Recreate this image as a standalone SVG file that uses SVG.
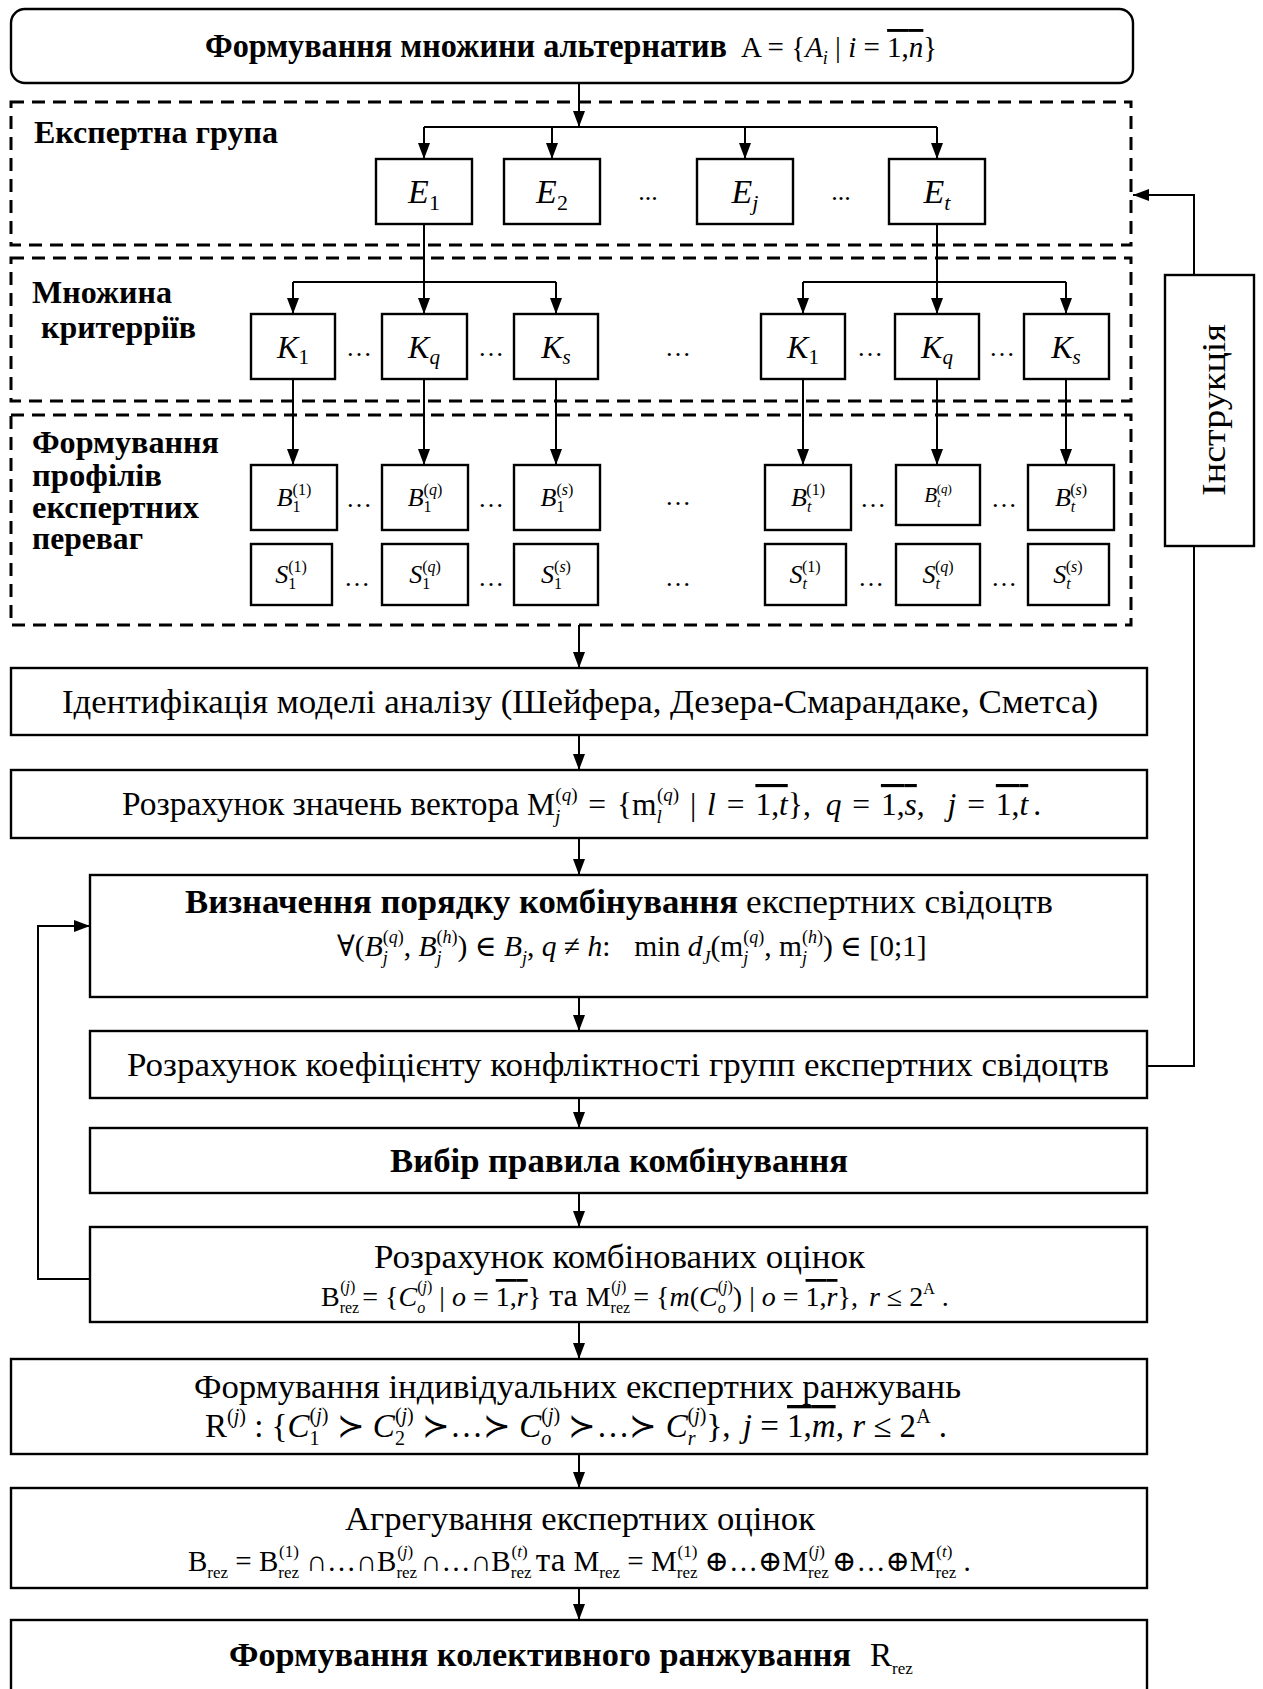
<svg xmlns="http://www.w3.org/2000/svg" width="1263" height="1689" viewBox="0 0 1263 1689">
<style>
.t{font-family:"Liberation Serif","Times New Roman","DejaVu Serif",serif;fill:#000}
.r{font-size:34px}
.b{font-size:33px;font-weight:bold}
.lb{font-size:31px;font-weight:bold}
.f{font-size:26px}
.s{font-size:16px}
.it{font-style:italic}
.ol{text-decoration:overline}
.box{fill:#fff;stroke:#000;stroke-width:2.4}
.dash{fill:none;stroke:#000;stroke-width:3;stroke-dasharray:13 8}
.conn{fill:none;stroke:#000;stroke-width:2}
.arr{marker-end:url(#ah)}
</style>
<defs>
<marker id="ah" viewBox="0 0 16 12" refX="16" refY="6" markerWidth="16" markerHeight="12" orient="auto" markerUnits="userSpaceOnUse">
<path d="M0,0 L16,6 L0,12 z" fill="#000"/>
</marker>
</defs>
<rect width="1263" height="1689" fill="#fff"/>

<!-- dashed grouping frames -->
<g id="frames">
<rect id="frame-experts" class="dash" x="11" y="102" width="1120" height="143"/>
<rect id="frame-criteria" class="dash" x="11" y="258" width="1120" height="143"/>
<rect id="frame-profiles" class="dash" x="11" y="415" width="1120" height="210"/>
<text class="t lb" x="34" y="143" textLength="244" lengthAdjust="spacingAndGlyphs">Експертна група</text>
<text class="t lb" x="32" y="303" textLength="140" lengthAdjust="spacingAndGlyphs">Множина</text>
<text class="t lb" x="41" y="338" textLength="155" lengthAdjust="spacingAndGlyphs">критерріїв</text>
<text class="t lb" x="32" y="453" textLength="187" lengthAdjust="spacingAndGlyphs">Формування</text>
<text class="t lb" x="32" y="486" textLength="130" lengthAdjust="spacingAndGlyphs">профілів</text>
<text class="t lb" x="32" y="518" textLength="167" lengthAdjust="spacingAndGlyphs">експертних</text>
<text class="t lb" x="32" y="549" textLength="111" lengthAdjust="spacingAndGlyphs">переваг</text>
</g>

<!-- connectors -->
<g id="connectors">
<path class="conn arr" d="M579,83 V127"/>
<path class="conn" d="M424,127 H937"/>
<path class="conn arr" d="M424,127 V159"/>
<path class="conn arr" d="M552,127 V159"/>
<path class="conn arr" d="M745,127 V159"/>
<path class="conn arr" d="M937,127 V159"/>
<path class="conn arr" d="M424,224 V314"/>
<path class="conn" d="M293,282 H556"/>
<path class="conn arr" d="M293,282 V314"/>
<path class="conn arr" d="M556,282 V314"/>
<path class="conn arr" d="M937,224 V314"/>
<path class="conn" d="M803,282 H1066"/>
<path class="conn arr" d="M803,282 V314"/>
<path class="conn arr" d="M1066,282 V314"/>
<path class="conn arr" d="M293,379 V465"/>
<path class="conn arr" d="M424,379 V465"/>
<path class="conn arr" d="M556,379 V465"/>
<path class="conn arr" d="M803,379 V465"/>
<path class="conn arr" d="M937,379 V465"/>
<path class="conn arr" d="M1066,379 V465"/>
<path class="conn arr" d="M579,625 V668"/>
<path class="conn arr" d="M579,735 V770"/>
<path class="conn arr" d="M579,838 V875"/>
<path class="conn arr" d="M579,997 V1031"/>
<path class="conn arr" d="M579,1098 V1128"/>
<path class="conn arr" d="M579,1193 V1227"/>
<path class="conn arr" d="M579,1322 V1359"/>
<path class="conn arr" d="M579,1454 V1488"/>
<path class="conn arr" d="M579,1588 V1620"/>
<path class="conn arr" d="M90,1279 H38 V926 H90"/>
<path class="conn" d="M1147,1066 H1194 V546"/>
<path class="conn arr" d="M1194,275 V195 H1133"/>
</g>

<!-- source of alternatives -->
<g id="n-alternatives">
<rect class="box" x="11" y="9" width="1122" height="74" rx="14"/>
<text class="t b" x="205" y="57" textLength="522" lengthAdjust="spacingAndGlyphs">Формування множини альтернатив</text>
<text class="t" font-size="29" x="741" y="57">A = {<tspan class="it">A</tspan><tspan font-size="18" class="it" dy="7">i</tspan><tspan dy="-7"> | </tspan><tspan class="it">i</tspan> = <tspan class="ol">1,<tspan class="it">n</tspan></tspan>}</text>
</g>

<!-- experts -->
<g id="n-e1"><rect class="box" x="376" y="159" width="96" height="65"/><text class="t" font-size="34" x="424" y="203" text-anchor="middle"><tspan class="it">E</tspan><tspan font-size="22" dy="7">1</tspan></text></g>
<g id="n-e2"><rect class="box" x="504" y="159" width="96" height="65"/><text class="t" font-size="34" x="552" y="203" text-anchor="middle"><tspan class="it">E</tspan><tspan font-size="22" dy="7">2</tspan></text></g>
<g id="n-ej"><rect class="box" x="697" y="159" width="96" height="65"/><text class="t" font-size="34" x="745" y="203" text-anchor="middle"><tspan class="it">E</tspan><tspan font-size="22" class="it" dy="7">j</tspan></text></g>
<g id="n-et"><rect class="box" x="889" y="159" width="96" height="65"/><text class="t" font-size="34" x="937" y="203" text-anchor="middle"><tspan class="it">E</tspan><tspan font-size="22" class="it" dy="7">t</tspan></text></g>
<g id="e-dots"><text class="t f" x="648" y="200" text-anchor="middle">...</text><text class="t f" x="841" y="200" text-anchor="middle">...</text></g>

<!-- criteria, expert 1 -->
<g id="n-k1-1"><rect class="box" x="251" y="314" width="84" height="65"/><text class="t" font-size="32" x="293" y="358" text-anchor="middle"><tspan class="it">K</tspan><tspan font-size="21" dy="6">1</tspan></text></g>
<g id="n-kq-1"><rect class="box" x="382" y="314" width="85" height="65"/><text class="t" font-size="32" x="424" y="358" text-anchor="middle"><tspan class="it">K</tspan><tspan font-size="21" class="it" dy="6">q</tspan></text></g>
<g id="n-ks-1"><rect class="box" x="514" y="314" width="84" height="65"/><text class="t" font-size="32" x="556" y="358" text-anchor="middle"><tspan class="it">K</tspan><tspan font-size="21" class="it" dy="6">s</tspan></text></g>
<!-- criteria, expert t -->
<g id="n-k1-t"><rect class="box" x="761" y="314" width="84" height="65"/><text class="t" font-size="32" x="803" y="358" text-anchor="middle"><tspan class="it">K</tspan><tspan font-size="21" dy="6">1</tspan></text></g>
<g id="n-kq-t"><rect class="box" x="895" y="314" width="84" height="65"/><text class="t" font-size="32" x="937" y="358" text-anchor="middle"><tspan class="it">K</tspan><tspan font-size="21" class="it" dy="6">q</tspan></text></g>
<g id="n-ks-t"><rect class="box" x="1024" y="314" width="85" height="65"/><text class="t" font-size="32" x="1066" y="358" text-anchor="middle"><tspan class="it">K</tspan><tspan font-size="21" class="it" dy="6">s</tspan></text></g>
<g id="k-dots"><text class="t f" x="359" y="356" text-anchor="middle">…</text><text class="t f" x="491" y="356" text-anchor="middle">…</text><text class="t f" x="678" y="356" text-anchor="middle">…</text><text class="t f" x="870" y="356" text-anchor="middle">…</text><text class="t f" x="1002" y="356" text-anchor="middle">…</text></g>

<!-- belief profiles -->
<g id="n-b1-1"><rect class="box" x="251" y="465" width="86" height="65"/><text class="t f" x="294" y="506" text-anchor="middle"><tspan class="it">B</tspan><tspan class="s" dy="6">1</tspan><tspan class="s" dx="-8" dy="-17">(1)</tspan></text></g>
<g id="n-bq-1"><rect class="box" x="382" y="465" width="86" height="65"/><text class="t f" x="425" y="506" text-anchor="middle"><tspan class="it">B</tspan><tspan class="s" dy="6">1</tspan><tspan class="s" dx="-8" dy="-17">(<tspan class="it">q</tspan>)</tspan></text></g>
<g id="n-bs-1"><rect class="box" x="514" y="465" width="86" height="65"/><text class="t f" x="557" y="506" text-anchor="middle"><tspan class="it">B</tspan><tspan class="s" dy="6">1</tspan><tspan class="s" dx="-8" dy="-17">(<tspan class="it">s</tspan>)</tspan></text></g>
<g id="n-b1-t"><rect class="box" x="765" y="465" width="86" height="65"/><text class="t f" x="808" y="506" text-anchor="middle"><tspan class="it">B</tspan><tspan class="s it" dy="6">t</tspan><tspan class="s" dx="-5" dy="-17">(1)</tspan></text></g>
<g id="n-bq-t"><rect class="box" x="896" y="465" width="84" height="60"/><text class="t" font-size="21" x="938" y="502" text-anchor="middle"><tspan class="it">B</tspan><tspan font-size="13" class="it" dy="5">t</tspan><tspan font-size="13" dx="-4" dy="-14">(<tspan class="it">q</tspan>)</tspan></text></g>
<g id="n-bs-t"><rect class="box" x="1028" y="465" width="86" height="65"/><text class="t f" x="1071" y="506" text-anchor="middle"><tspan class="it">B</tspan><tspan class="s it" dy="6">t</tspan><tspan class="s" dx="-5" dy="-17">(<tspan class="it">s</tspan>)</tspan></text></g>
<g id="b-dots"><text class="t f" x="359" y="507" text-anchor="middle">…</text><text class="t f" x="491" y="507" text-anchor="middle">…</text><text class="t f" x="678" y="505" text-anchor="middle">…</text><text class="t f" x="873" y="507" text-anchor="middle">…</text><text class="t f" x="1004" y="507" text-anchor="middle">…</text></g>

<!-- support profiles -->
<g id="n-s1-1"><rect class="box" x="251" y="544" width="81" height="61"/><text class="t f" x="291" y="583" text-anchor="middle"><tspan class="it">S</tspan><tspan class="s" dy="6">1</tspan><tspan class="s" dx="-8" dy="-17">(1)</tspan></text></g>
<g id="n-sq-1"><rect class="box" x="382" y="544" width="86" height="61"/><text class="t f" x="425" y="583" text-anchor="middle"><tspan class="it">S</tspan><tspan class="s" dy="6">1</tspan><tspan class="s" dx="-8" dy="-17">(<tspan class="it">q</tspan>)</tspan></text></g>
<g id="n-ss-1"><rect class="box" x="514" y="544" width="84" height="61"/><text class="t f" x="556" y="583" text-anchor="middle"><tspan class="it">S</tspan><tspan class="s" dy="6">1</tspan><tspan class="s" dx="-8" dy="-17">(<tspan class="it">s</tspan>)</tspan></text></g>
<g id="n-s1-t"><rect class="box" x="765" y="544" width="81" height="61"/><text class="t f" x="805" y="583" text-anchor="middle"><tspan class="it">S</tspan><tspan class="s it" dy="6">t</tspan><tspan class="s" dx="-5" dy="-17">(1)</tspan></text></g>
<g id="n-sq-t"><rect class="box" x="896" y="544" width="84" height="61"/><text class="t f" x="938" y="583" text-anchor="middle"><tspan class="it">S</tspan><tspan class="s it" dy="6">t</tspan><tspan class="s" dx="-5" dy="-17">(<tspan class="it">q</tspan>)</tspan></text></g>
<g id="n-ss-t"><rect class="box" x="1028" y="544" width="81" height="61"/><text class="t f" x="1068" y="583" text-anchor="middle"><tspan class="it">S</tspan><tspan class="s it" dy="6">t</tspan><tspan class="s" dx="-5" dy="-17">(<tspan class="it">s</tspan>)</tspan></text></g>
<g id="s-dots"><text class="t f" x="357" y="586" text-anchor="middle">…</text><text class="t f" x="491" y="586" text-anchor="middle">…</text><text class="t f" x="678" y="586" text-anchor="middle">…</text><text class="t f" x="871" y="586" text-anchor="middle">…</text><text class="t f" x="1004" y="586" text-anchor="middle">…</text></g>

<!-- instruction feedback -->
<g id="n-instruction"><rect class="box" x="1165" y="275" width="89" height="271"/><text class="t" font-size="34" transform="translate(1225,410) rotate(-90)" text-anchor="middle" textLength="172" lengthAdjust="spacingAndGlyphs">Інструкція</text></g>

<!-- main chain -->
<g id="n-model"><rect class="box" x="11" y="668" width="1136" height="67"/><text class="t r" x="62" y="713" textLength="1036" lengthAdjust="spacingAndGlyphs">Ідентифікація моделі аналізу (Шейфера, Дезера-Смарандаке, Сметса)</text></g>

<g id="n-vector"><rect class="box" x="11" y="770" width="1136" height="68"/><text class="t r" x="122" y="815" textLength="397" lengthAdjust="spacingAndGlyphs">Розрахунок значень вектора</text><text class="t" font-size="31.5" word-spacing="3" x="527" y="815">M<tspan font-size="19" class="it" dy="8">j</tspan><tspan font-size="19" dx="-5" dy="-22">(<tspan class="it">q</tspan>)</tspan><tspan dy="14"> = {m</tspan><tspan font-size="19" class="it" dy="8">l</tspan><tspan font-size="19" dx="-5" dy="-22">(<tspan class="it">q</tspan>)</tspan><tspan dy="14"> | </tspan><tspan class="it">l</tspan> = <tspan class="ol">1,<tspan class="it">t</tspan></tspan>}, <tspan dx="4" class="it">q</tspan> = <tspan class="ol">1,<tspan class="it">s</tspan></tspan>, <tspan dx="12" class="it">j</tspan> = <tspan class="ol">1,<tspan class="it">t</tspan></tspan><tspan dx="5">.</tspan></text></g>

<g id="n-order"><rect class="box" x="90" y="875" width="1057" height="122"/><text class="t b" x="185" y="913" textLength="553" lengthAdjust="spacingAndGlyphs">Визначення порядку комбінування</text><text class="t r" x="746" y="913" textLength="307" lengthAdjust="spacingAndGlyphs">експертних свідоцтв</text><text class="t" font-size="29.5" x="337" y="956">∀(<tspan class="it">B</tspan><tspan font-size="18" class="it" dy="8">j</tspan><tspan font-size="18" dx="-5" dy="-21">(<tspan class="it">q</tspan>)</tspan><tspan dy="13">, </tspan><tspan class="it">B</tspan><tspan font-size="18" class="it" dy="8">j</tspan><tspan font-size="18" dx="-5" dy="-21">(<tspan class="it">h</tspan>)</tspan><tspan dy="13">) ∈ </tspan><tspan class="it">B</tspan><tspan font-size="18" class="it" dy="8">j</tspan><tspan dy="-8">, </tspan><tspan class="it">q</tspan> ≠ <tspan class="it">h</tspan>:<tspan dx="24">min </tspan><tspan class="it">d</tspan><tspan font-size="18" class="it" dy="8">J</tspan><tspan dy="-8">(m</tspan><tspan font-size="18" class="it" dy="8">j</tspan><tspan font-size="18" dx="-5" dy="-21">(<tspan class="it">q</tspan>)</tspan><tspan dy="13">, m</tspan><tspan font-size="18" class="it" dy="8">j</tspan><tspan font-size="18" dx="-5" dy="-21">(<tspan class="it">h</tspan>)</tspan><tspan dy="13">) ∈ [0;1]</tspan></text></g>

<g id="n-conflict"><rect class="box" x="90" y="1031" width="1057" height="67"/><text class="t r" x="127" y="1076" textLength="982" lengthAdjust="spacingAndGlyphs">Розрахунок коефіцієнту конфліктності групп експертних свідоцтв</text></g>

<g id="n-rule"><rect class="box" x="90" y="1128" width="1057" height="65"/><text class="t b" x="390" y="1172" textLength="458" lengthAdjust="spacingAndGlyphs">Вибір правила комбінування</text></g>

<g id="n-combined"><rect class="box" x="90" y="1227" width="1057" height="95"/><text class="t r" x="374" y="1268" textLength="491" lengthAdjust="spacingAndGlyphs">Розрахунок комбінованих оцінок</text><text class="t" font-size="28" x="321" y="1306">B<tspan font-size="16" dy="7">rez</tspan><tspan font-size="16" dx="-19" dy="-21">(<tspan class="it">j</tspan>)</tspan><tspan dy="14"> = {</tspan><tspan class="it">C</tspan><tspan font-size="16" class="it" dy="7">o</tspan><tspan font-size="16" dx="-8" dy="-21">(<tspan class="it">j</tspan>)</tspan><tspan dy="14"> | </tspan><tspan class="it">o</tspan> = <tspan class="ol">1,<tspan class="it">r</tspan></tspan>}<tspan font-size="32"> та </tspan>M<tspan font-size="16" dy="7">rez</tspan><tspan font-size="16" dx="-19" dy="-21">(<tspan class="it">j</tspan>)</tspan><tspan dy="14"> = {</tspan><tspan class="it">m</tspan>(<tspan class="it">C</tspan><tspan font-size="16" class="it" dy="7">o</tspan><tspan font-size="16" dx="-8" dy="-21">(<tspan class="it">j</tspan>)</tspan><tspan dy="14">) | </tspan><tspan class="it">o</tspan> = <tspan class="ol">1,<tspan class="it">r</tspan></tspan>}, <tspan dx="4" class="it">r</tspan> ≤ 2<tspan font-size="16" dy="-12">A</tspan><tspan dy="12"> .</tspan></text></g>

<g id="n-individual"><rect class="box" x="11" y="1359" width="1136" height="95"/><text class="t r" x="194" y="1398" textLength="767" lengthAdjust="spacingAndGlyphs">Формування індивідуальних експертних ранжувань</text><text class="t" font-size="33" x="205" y="1437">R<tspan font-size="20" dy="-14">(<tspan class="it">j</tspan>)</tspan><tspan dy="14"> : {</tspan><tspan class="it">C</tspan><tspan font-size="20" dy="8">1</tspan><tspan font-size="20" dx="-10" dy="-23">(<tspan class="it">j</tspan>)</tspan><tspan dy="15"> ≻ </tspan><tspan class="it">C</tspan><tspan font-size="20" dy="8">2</tspan><tspan font-size="20" dx="-10" dy="-23">(<tspan class="it">j</tspan>)</tspan><tspan dy="15"> ≻…≻ </tspan><tspan class="it">C</tspan><tspan font-size="20" class="it" dy="8">o</tspan><tspan font-size="20" dx="-10" dy="-23">(<tspan class="it">j</tspan>)</tspan><tspan dy="15"> ≻…≻ </tspan><tspan class="it">C</tspan><tspan font-size="20" class="it" dy="8">r</tspan><tspan font-size="20" dx="-8" dy="-23">(<tspan class="it">j</tspan>)</tspan><tspan dy="15">}, </tspan><tspan dx="4" class="it">j</tspan> = <tspan class="ol">1,<tspan class="it">m</tspan></tspan>, <tspan class="it">r</tspan> ≤ 2<tspan font-size="20" dy="-14">A</tspan><tspan dy="14"> .</tspan></text></g>

<g id="n-aggregate"><rect class="box" x="11" y="1488" width="1136" height="100"/><text class="t r" x="345" y="1530" textLength="470" lengthAdjust="spacingAndGlyphs">Агрегування експертних оцінок</text><text class="t" font-size="29" x="188" y="1571">B<tspan font-size="17" dy="7">rez</tspan><tspan dy="-7"> = B</tspan><tspan font-size="17" dy="7">rez</tspan><tspan font-size="17" dx="-20" dy="-21">(1)</tspan><tspan dy="14"> ∩…∩B</tspan><tspan font-size="17" dy="7">rez</tspan><tspan font-size="17" dx="-20" dy="-21">(<tspan class="it">j</tspan>)</tspan><tspan dy="14"> ∩…∩B</tspan><tspan font-size="17" dy="7">rez</tspan><tspan font-size="17" dx="-20" dy="-21">(<tspan class="it">t</tspan>)</tspan><tspan dy="14" font-size="33"> та </tspan>M<tspan font-size="17" dy="7">rez</tspan><tspan dy="-7"> = M</tspan><tspan font-size="17" dy="7">rez</tspan><tspan font-size="17" dx="-20" dy="-21">(1)</tspan><tspan dy="14"> ⊕…⊕M</tspan><tspan font-size="17" dy="7">rez</tspan><tspan font-size="17" dx="-20" dy="-21">(<tspan class="it">j</tspan>)</tspan><tspan dy="14"> ⊕…⊕M</tspan><tspan font-size="17" dy="7">rez</tspan><tspan font-size="17" dx="-20" dy="-21">(<tspan class="it">t</tspan>)</tspan><tspan dy="14" dx="4"> .</tspan></text></g>

<g id="n-collective"><rect class="box" x="11" y="1620" width="1136" height="100"/><text class="t b" x="229" y="1666" textLength="622" lengthAdjust="spacingAndGlyphs">Формування колективного ранжування</text><text class="t" font-size="33" x="870" y="1666">R<tspan font-size="17" dy="8">rez</tspan></text></g>
</svg>
